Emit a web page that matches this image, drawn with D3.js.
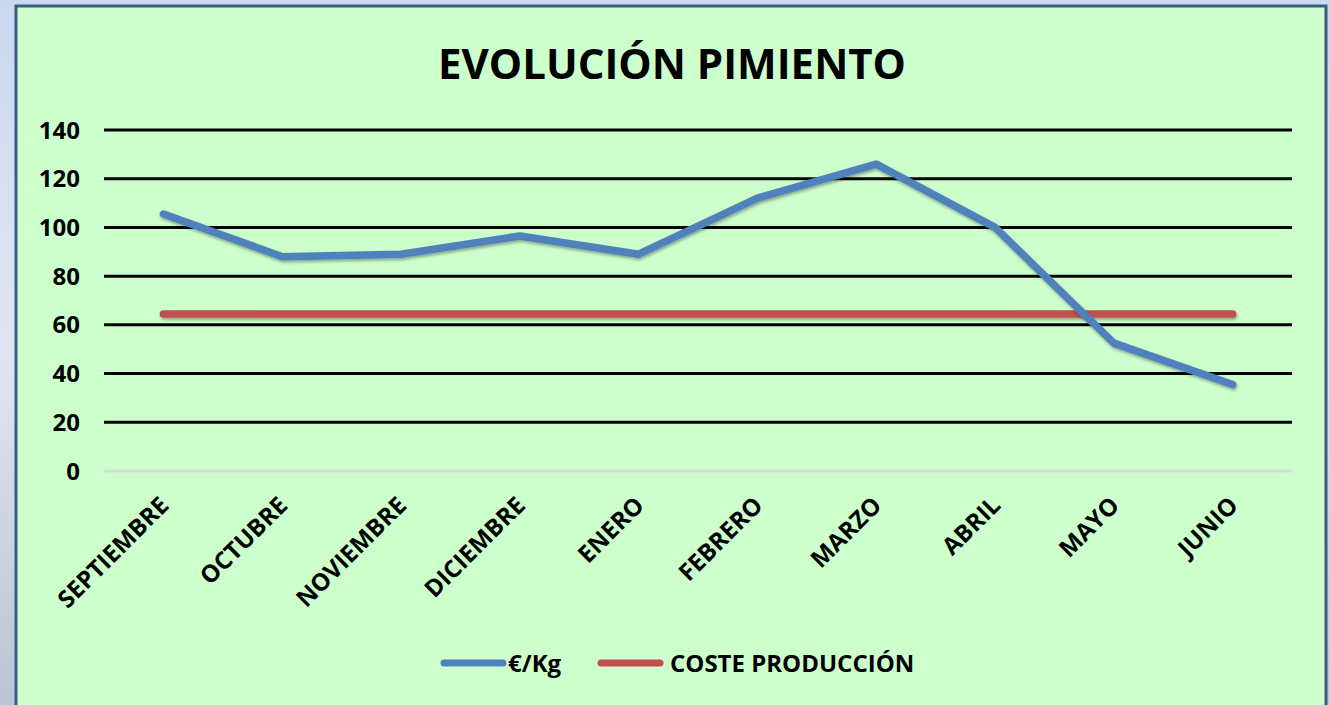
<!DOCTYPE html>
<html>
<head>
<meta charset="utf-8">
<script src="https://cdn.jsdelivr.net/npm/d3@7"></script>
<style>
  body { margin: 0; background: #cfdcef; overflow: hidden; }
  svg { display: block; font-family: "Open Sans", "DejaVu Sans", sans-serif; }
</style>
</head>
<body>
<svg id="chart" width="1329" height="705"></svg>
<script>
// data
const months = ["SEPTIEMBRE", "OCTUBRE", "NOVIEMBRE", "DICIEMBRE", "ENERO", "FEBRERO", "MARZO", "ABRIL", "MAYO", "JUNIO"]
const precio = [105.5, 88, 89, 96.5, 89, 112, 126, 100, 52.5, 35.5]
const coste = [64.5, 64.5, 64.5, 64.5, 64.5, 64.5, 64.5, 64.5, 64.5, 64.5]
const yTicks = [0, 20, 40, 60, 80, 100, 120, 140]

const svg = d3.select("#chart")

// left strip looks like a blurred photo, fake it with a gradient
const defs = svg.append("defs")
const grad = defs.append("linearGradient").attr("id", "bg").attr("x1", 0).attr("y1", 0).attr("x2", 0).attr("y2", 1)
grad.append("stop").attr("offset", "0%").attr("stop-color", "#c9d9f0")
grad.append("stop").attr("offset", "50%").attr("stop-color", "#dfe6f3")
grad.append("stop").attr("offset", "100%").attr("stop-color", "#b9c4d4")
svg.append("rect").attr("width", 1329).attr("height", 705).attr("fill", "url(#bg)")

// userSpaceOnUse so the flat red line doesn't get a zero height filter box
const shadow = defs.append("filter").attr("id", "shadow")
    .attr("filterUnits", "userSpaceOnUse")
    .attr("x", 0).attr("y", 0).attr("width", 1329).attr("height", 705)
shadow.append("feDropShadow").attr("dx", 1).attr("dy", 2).attr("stdDeviation", 1.5)
    .attr("flood-color", "#000").attr("flood-opacity", 0.35)

// chart panel
svg.append("rect")
    .attr("x", 16).attr("y", 6)
    .attr("width", 1310).attr("height", 720)
    .attr("fill", "#ccffcc")
    .attr("stroke", "#3d5b80")
    .attr("stroke-width", 3)

// title
svg.append("text")
    .attr("x", 672).attr("y", 79)
    .attr("text-anchor", "middle")
    .style("font-size", "42px")
    .style("font-weight", "bold")
    .text("EVOLUCIÓN PIMIENTO")

const plotLeft = 104, plotRight = 1292, plotTop = 130, plotBottom = 471

const x = d3.scaleBand().domain(months).range([plotLeft, plotRight])
const y = d3.scaleLinear().domain([0, 140]).range([plotBottom, plotTop])
const xc = d => x(d) + x.bandwidth() / 2

// gridlines + y labels
const grid = svg.append("g")
grid.selectAll("line")
    .data(yTicks)
    .enter()
    .append("line")
    .attr("x1", plotLeft).attr("x2", plotRight)
    .attr("y1", d => y(d)).attr("y2", d => y(d))
    .attr("stroke", d => d === 0 ? "#d9d9d9" : "#000")
    .attr("stroke-width", 3)

grid.selectAll("text")
    .data(yTicks)
    .enter()
    .append("text")
    .attr("x", 80)
    .attr("y", d => y(d))
    .attr("dy", "0.36em")
    .attr("text-anchor", "end")
    .style("font-size", "24px")
    .style("font-weight", "bold")
    .text(d => d)

// x labels, rotated
svg.append("g")
    .selectAll("text")
    .data(months)
    .enter()
    .append("text")
    .attr("transform", d => `translate(${xc(d) - 5}, ${plotBottom + 24}) rotate(-45)`)
    .attr("text-anchor", "end")
    .attr("dy", "0.7em")
    .style("font-size", "24px")
    .style("font-weight", "bold")
    .text(d => d)

// lines
const line = d3.line()
    .x((d, i) => xc(months[i]))
    .y(d => y(d))

svg.append("path")
    .datum(coste)
    .attr("d", line)
    .attr("fill", "none")
    .attr("stroke", "#c0504d")
    .attr("stroke-width", 7.5)
    .attr("stroke-linecap", "round")
    .attr("filter", "url(#shadow)")

svg.append("path")
    .datum(precio)
    .attr("d", line)
    .attr("fill", "none")
    .attr("stroke", "#4f81bd")
    .attr("stroke-width", 7.5)
    .attr("stroke-linecap", "round")
    .attr("stroke-linejoin", "round")
    .attr("filter", "url(#shadow)")

// legend
const legend = [
    {name: "€/Kg", color: "#4f81bd", x: 444},
    {name: "COSTE PRODUCCIÓN", color: "#c0504d", x: 601}
]
const lg = svg.append("g")
lg.selectAll("line")
    .data(legend)
    .enter()
    .append("line")
    .attr("x1", d => d.x).attr("x2", d => d.x + 59)
    .attr("y1", 663).attr("y2", 663)
    .attr("stroke", d => d.color)
    .attr("stroke-width", 7)
    .attr("stroke-linecap", "round")
lg.selectAll("text")
    .data(legend)
    .enter()
    .append("text")
    .attr("x", d => d.name === "€/Kg" ? d.x + 64 : d.x + 69)
    .attr("y", 663)
    .attr("dy", "0.36em")
    .style("font-size", "24px")
    .style("font-weight", "bold")
    .text(d => d.name)
</script>
</body>
</html>
